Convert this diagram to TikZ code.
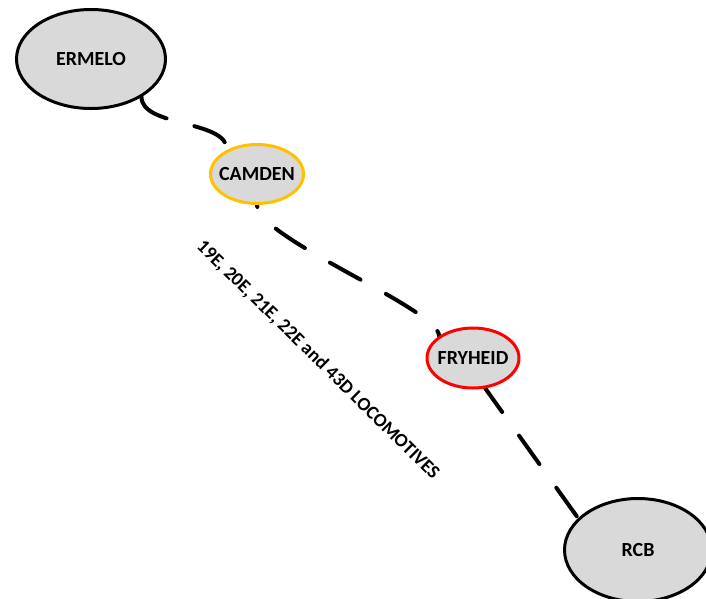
\documentclass[tikz,border=0pt]{standalone}
\usepackage{fontspec}
\setmainfont{Carlito}
\usetikzlibrary{shapes.geometric}
\pgfdeclarelayer{tracks}
\pgfsetlayers{tracks,main}
\definecolor{stationfill}{HTML}{D9D9D9}
\definecolor{gold}{HTML}{FFC000}
\definecolor{signalred}{HTML}{FF0000}
% station names take no width, so each ellipse keeps its given size
\newcommand{\stationname}[1]{\makebox[0pt]{#1}}
\tikzset{
  station/.style={ellipse, draw=black, line width=3pt, fill=stationfill,
    inner sep=0pt, font=\fontsize{20}{24}\selectfont\bfseries},
  track/.style={line width=4pt, line cap=round,
    dash pattern=on 35pt off 29pt}
}
\begin{document}
\begin{tikzpicture}[x=1pt, y=-1pt]
  \useasboundingbox (0,0) rectangle (706,598);
  \clip (0,0) rectangle (706,598);

  % stations
  \node[station, minimum width=149pt, minimum height=99pt] (erm) at (91,59) {\stationname{ERMELO}};
  \node[station, draw=gold, minimum width=93pt, minimum height=59pt] (cam) at (257,174) {\stationname{CAMDEN}};
  \node[station, draw=signalred, minimum width=92pt, minimum height=60pt] (fry) at (473,358) {\stationname{FRYHEID}};
  \node[station, minimum width=147pt, minimum height=103pt] (rcb) at (638,550) {\stationname{RCB}};

  % dashed line sections, kept beneath the stations
  \begin{pgfonlayer}{tracks}
    \draw[track] (erm.-37) .. controls +(0,30) and +(0,-30) .. (cam.141);
    \draw[track, dash phase=33pt] (cam.south) .. controls +(0,33) and +(0,-27) .. (fry.147);
    \draw[track, dash phase=6pt] (fry.-68) -- (rcb.152);
  \end{pgfonlayer}

  % rolling stock label
  \node[rotate=-44.5, font=\fontsize{19}{22}\selectfont\bfseries] (loco) at (318,360)
    {19E, 20E, 21E, 22E and 43D LOCOMOTIVES};
\end{tikzpicture}
\end{document}
